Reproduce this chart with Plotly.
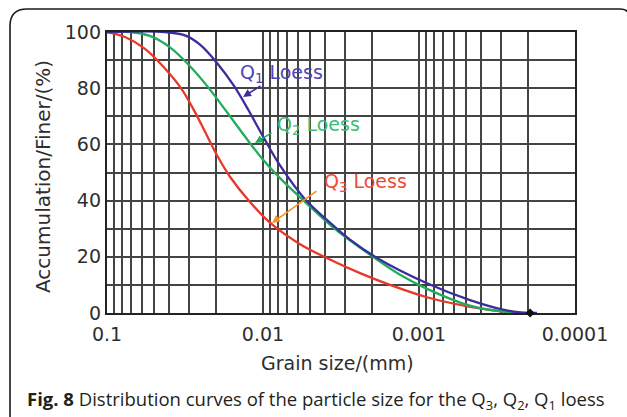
import plotly.graph_objects as go

# ---------------- data ----------------
q3_size = [0.1, 0.07668, 0.05706, 0.04249, 0.03306, 0.02729, 0.02353, 0.01943, 0.01628,
           0.01212, 0.008755, 0.00579, 0.003557, 0.002388, 0.001534, 0.000889,
           0.000471, 0.000289, 0.0002353]
q3_finer = [100, 98.2, 94.0, 87.0, 79.5, 71.5, 64.5, 55.5, 48.5,
            39.5, 31.5, 24.5, 18.5, 14.2, 10.0, 5.6,
            2.2, 0.5, 0]

q2_size = [0.1, 0.07122, 0.053, 0.03946, 0.02937, 0.02186, 0.01677, 0.01304, 0.01015,
           0.00778, 0.005539, 0.003557, 0.002154, 0.001323, 0.000889, 0.000471,
           0.000289, 0.0001943]
q2_finer = [100, 100, 98.6, 94.5, 87.8, 79.5, 71.0, 62.8, 55.0,
            48.0, 40.2, 30.5, 21.5, 13.6, 8.6, 2.6,
            0.5, 0]

q1_size = [0.1, 0.04249, 0.03162, 0.02534, 0.01972, 0.01534, 0.01248, 0.01015, 0.00778,
           0.005378, 0.003557, 0.002768, 0.001859, 0.000889, 0.000471, 0.000289,
           0.0002252, 0.0001752]
q1_finer = [100, 100, 98.8, 95.5, 89.0, 80.8, 72.5, 63.5, 52.5,
            40.5, 31.2, 26.1, 19.6, 10.6, 4.6, 1.2,
            0.2, 0]

end_mark_size = [0.000194]
end_mark_finer = [0]

x_tick_vals = [0.1, 0.01, 0.001, 0.0001]
x_tick_text = ["0.1", "0.01", "0.001", "0.0001"]
x_grid_vals = [d * 10 ** k for k in (-4, -3, -2) for d in range(2, 10)]
y_tick_vals = [0, 20, 40, 60, 80, 100]

# ---------------- styling ----------------
W, H = 627, 417
ML, MR, MT, MB = 107, 52, 32, 104
PW, PH = W - ML - MR, H - MT - MB


def pxx(x):
    return (x - ML) / PW


def pxy(y):
    return (H - MB - y) / PH


BLUE, BLUE_T = "#3b2d9e", "#4c44b4"
GREEN, GREEN_T = "#1fae5b", "#3dbd74"
RED, RED_T = "#e8382a", "#ee4a37"
ORANGE = "#f7931e"
GRID = "#444444"
TXT = "#2e2e2e"
FONT = "DejaVu Sans"

fig = go.Figure()
for xs, ys, col, name in [(q3_size, q3_finer, RED, "Q3 Loess"),
                          (q2_size, q2_finer, GREEN, "Q2 Loess"),
                          (q1_size, q1_finer, BLUE, "Q1 Loess")]:
    fig.add_trace(go.Scatter(x=xs, y=ys, mode="lines", name=name,
                             line=dict(color=col, width=2.3, shape="spline", smoothing=0.9),
                             cliponaxis=False, showlegend=False))
fig.add_trace(go.Scatter(x=end_mark_size, y=end_mark_finer, mode="markers",
                         marker=dict(symbol="diamond", size=7, color="#111"),
                         cliponaxis=False, showlegend=False))

fig.update_xaxes(type="log", range=[-1, -4], tickmode="array",
                 tickvals=x_tick_vals, ticktext=x_tick_text,
                 showgrid=True, gridcolor=GRID, gridwidth=1.6,
                 minor=dict(tickmode="array", tickvals=x_grid_vals, showgrid=True,
                            gridcolor=GRID, gridwidth=1.6),
                 showline=True, linecolor="#222", linewidth=2.4, mirror=True,
                 ticks="", zeroline=False, layer="below traces", ticklabelstandoff=3,
                 tickfont=dict(family=FONT, size=19, color=TXT))
fig.update_yaxes(range=[0, 100], tickmode="array", tickvals=y_tick_vals,
                 showgrid=True, gridcolor=GRID, gridwidth=1.6,
                 minor=dict(dtick=10, tick0=0, showgrid=True, gridcolor=GRID, gridwidth=1.6),
                 showline=True, linecolor="#222", linewidth=2.4, mirror=True,
                 ticks="", zeroline=False, layer="below traces",
                 tickfont=dict(family=FONT, size=19, color=TXT))

ann = []
# axis titles
ann.append(dict(text="Grain size/(mm)", x=pxx(337), y=pxy(363), xref="paper", yref="paper",
                showarrow=False, xanchor="center", yanchor="middle",
                font=dict(family=FONT, size=19, color=TXT)))
ann.append(dict(text="Accumulation/Finer/(%)", x=pxx(43), y=pxy(177), xref="paper", yref="paper",
                showarrow=False, xanchor="center", yanchor="middle", textangle=-90,
                font=dict(family=FONT, size=20, color=TXT)))
# curve labels
for txt, x, y, col in [("Q<sub>1</sub> Loess", 238, 73, BLUE_T),
                       ("Q<sub>2</sub> Loess", 275, 125, GREEN_T),
                       ("Q<sub>3</sub> Loess", 322, 182, RED_T)]:
    ann.append(dict(text=txt, x=pxx(x), y=pxy(y), xref="paper", yref="paper",
                    showarrow=False, xanchor="left", yanchor="middle",
                    font=dict(family=FONT, size=19, color=col)))
# pointer arrows
for (tx, ty), (hx, hy), col in [((262, 85), (243, 97), BLUE),
                                ((273, 132), (255, 143), GREEN),
                                ((318, 190), (272, 223), ORANGE)]:
    ann.append(dict(text="", x=pxx(hx), y=pxy(hy), xref="paper", yref="paper",
                    ax=tx - hx, ay=ty - hy, showarrow=True, arrowhead=2,
                    arrowsize=1, arrowwidth=1.6, arrowcolor=col))
# caption
ann.append(dict(text="<b>Fig. 8</b> Distribution curves of the particle size for the "
                     "Q<sub>3</sub>, Q<sub>2</sub>, Q<sub>1</sub> loess",
                x=pxx(25), y=pxy(400), xref="paper", yref="paper",
                showarrow=False, xanchor="left", yanchor="middle",
                font=dict(family="Open Sans", size=18.5, color="#231f20")))


# outer rounded frame
def P(x, y):
    return f"{pxx(x):.5f},{pxy(y):.5f}"


frame = (f"M {P(10, 430)} L {P(10, 26)} Q {P(10, 9)} {P(27, 9)} "
         f"L {P(620, 9)} Q {P(630, 9)} {P(630, 19)} L {P(630, 430)}")

fig.update_layout(
    width=W, height=H, margin=dict(l=ML, r=MR, t=MT, b=MB),
    paper_bgcolor="white", plot_bgcolor="white",
    annotations=ann,
    shapes=[dict(type="path", path=frame, xref="paper", yref="paper",
                 line=dict(color="#1a1a1a", width=1.6))],
)

fig.write_html("out.html")
